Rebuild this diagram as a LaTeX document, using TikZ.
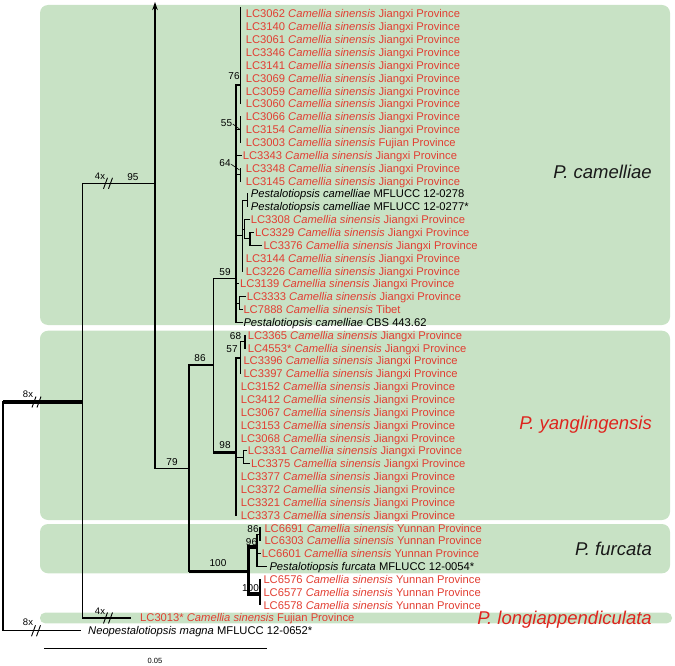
\documentclass[tikz,border=0pt]{standalone}
\usepackage{fontspec}
\setmainfont{Liberation Sans}
\usetikzlibrary{arrows.meta}
\definecolor{lcred}{RGB}{226,62,50}
\definecolor{clgreen}{RGB}{200,226,197}
\definecolor{cladered}{RGB}{222,36,30}
\newcommand{\cs}{\textit{Camellia sinensis}}
\begin{document}
\begin{tikzpicture}[x=1pt,y=-1pt,
  leaf/.style={anchor=base west,inner sep=0pt,font=\fontsize{11.2}{12}\selectfont,text=lcred},
  blk/.style={leaf,text=black},
  br/.style={line width=1.1pt,line cap=rect},
  thk/.style={line width=3.6pt},
  supp/.style={font=\fontsize{10}{11}\selectfont,inner sep=0pt,anchor=center},
  mult/.style={font=\fontsize{9.5}{10}\selectfont,inner sep=0pt,anchor=center},
  clade/.style={anchor=base east,inner sep=0pt,font=\fontsize{18.5}{20}\selectfont\itshape},
  cbox/.style={fill=clgreen,rounded corners=8pt,draw=none}
]
\useasboundingbox (0,0) rectangle (675,666);
% clade boxes
\fill[cbox] (40,5) rectangle (670,325);
\fill[cbox] (40,330.7) rectangle (670,520);
\fill[cbox] (40,524) rectangle (670,573.3);
\fill[cbox,rounded corners=5pt] (40,612.7) rectangle (672,623.3);
% clade labels
\node[clade,text=black!90] (cam) at (652,178.5) {P. camelliae};
\node[clade,text=cladered] (yan) at (652,429.5) {P. yanglingensis};
\node[clade,text=black!90] (fur) at (652,555.5) {P. furcata};
\node[clade,text=cladered] (lon) at (652,624.5) {P. longiappendiculata};
% leaves: Jiangxi
\foreach \t/\i/\x in {LC3062/0/245.7,LC3140/1/245.7,LC3061/2/245.7,LC3346/3/245.7,LC3141/4/245.7,LC3069/5/245.7,LC3059/6/245.7,LC3060/7/245.7,LC3066/8/245.7,LC3154/9/245.7,LC3343/11/242.7,LC3348/12/245.7,LC3145/13/245.7,LC3308/16/250.7,LC3329/17/255,LC3376/18/263.3,LC3144/19/245.7,LC3226/20/245.7,LC3139/21/240,LC3333/22/246.7,LC3365/25/247.7,LC4553*/26/247.7,LC3396/27/243.3,LC3397/28/243.3,LC3152/29/240.7,LC3412/30/240.7,LC3067/31/240.7,LC3153/32/240.7,LC3068/33/240.7,LC3331/34/247.7,LC3375/35/251,LC3377/36/240.7,LC3372/37/240.7,LC3321/38/240.7,LC3373/39/240.7}
  {\node[leaf] (r\i) at (\x,18+12.85*\i) {\t\ \cs\ Jiangxi Province};}
% leaves: Yunnan
\foreach \t/\i/\x in {LC6691/40/264.3,LC6303/41/264.3,LC6601/42/261.7,LC6576/44/263.3,LC6577/45/263.3,LC6578/46/263.3}
  {\node[leaf] (r\i) at (\x,18+12.85*\i) {\t\ \cs\ Yunnan Province};}
\node[leaf] (r10) at (245.7,146.5) {LC3003 \cs\ Fujian Province};
\node[leaf] (r23) at (243.3,313.55) {LC7888 \cs\ Tibet};
\node[leaf] (r47) at (140,621.95) {LC3013* \cs\ Fujian Province};
\node[blk] (r14) at (250.7,197.9) {\textit{Pestalotiopsis camelliae} MFLUCC 12-0278};
\node[blk] (r15) at (250.7,210.75) {\textit{Pestalotiopsis camelliae} MFLUCC 12-0277*};
\node[blk] (r24) at (243.3,326.4) {\textit{Pestalotiopsis camelliae} CBS 443.62};
\node[blk] (r43) at (269.3,570.55) {\textit{Pestalotiopsis furcata} MFLUCC 12-0054*};
\node[blk] (r48) at (88,634.8) {\textit{Neopestalotiopsis magna} MFLUCC 12-0652*};
% internal node coordinates
\coordinate (root) at (3,402);
\coordinate (ing) at (82.3,402);
\coordinate (n95) at (155,183.3);
\coordinate (n79) at (189,468.3);
\coordinate (n86) at (213.3,365);
\coordinate (n59) at (236,278.3);
\coordinate (n98) at (236,452.3);
\coordinate (n100) at (248.3,571.5);
% backbone
\draw[br] (3,402) -- (3,630.8) -- (80,630.8);
\draw[thk] (root) -- (ing);
\draw[br] (82.3,183.3) -- (82.3,617.95) -- (130,617.95);
\draw[br] (82.3,183.3) -- (n95);
\draw[br,-{Stealth[length=8pt,width=5.5pt]}] (155,468.3) -- (155,2);
\draw[br] (155,468.3) -- (n79);
\draw[br] (189,365) |- (n79);
\draw[br] (189,468.3) -- (189,571.5);
\draw[br] (189,365) -- (n86);
\draw[thk] (189,571.5) -- (n100);
\draw[br] (213.3,278.3) -- (213.3,452.3);
\draw[br] (213.3,278.3) -- (n59);
\draw[thk] (213.3,452.3) -- (n98);
% P. camelliae clade
\draw[br] (236,85) -- (236,322.4);
\draw[br] (240.7,8) -- (240.7,103.95);
\draw[br] (236,85) -- (240.7,85);
\draw[br] (240.7,116.8) -- (240.7,142.5);
\draw[br] (236,129.65) -- (240.7,129.65);
\draw[br] (236,155.35) -- (241.2,155.35);
\draw[br] (240.7,168.2) -- (240.7,181.05);
\draw[br] (236,174.6) -- (240.7,174.6);
\draw[br] (242.7,200.3) -- (242.7,271);
\draw[br] (236,235.6) -- (242.7,235.6);
\draw[br] (247.3,193.9) -- (247.3,206.75);
\draw[br] (242.7,200.3) -- (247.3,200.3);
\draw[br] (244.5,219.6) -- (244.5,238.9);
\draw[br] (242.7,229.2) -- (244.5,229.2);
\draw[br] (244.5,219.6) -- (249.3,219.6);
\draw[br] (250,232.45) -- (250,245.3);
\draw[br] (244.5,238.9) -- (250,238.9);
\draw[br] (250,232.45) -- (253.5,232.45);
\draw[br] (250,245.3) -- (261.8,245.3);
\draw[br] (236,283.85) -- (238.6,283.85);
\draw[br] (239.5,296.7) -- (239.5,309.55);
\draw[br] (236,303.1) -- (239.5,303.1);
\draw[br] (239.5,296.7) -- (245.3,296.7);
\draw[br] (239.5,309.55) -- (242,309.55);
\draw[br] (236,322.4) -- (242,322.4);
% P. yanglingensis clade
\draw[br] (236,358) -- (236,515.15);
\draw[br] (240.5,341.7) -- (240.5,373.8);
\draw[br] (236,358) -- (240.5,358);
\draw[br] (245,335.25) -- (245,348.1);
\draw[br] (240.5,341.7) -- (245,341.7);
\draw[br] (243.3,450.9) -- (243.3,463.75);
\draw[br] (236,457.3) -- (243.3,457.3);
\draw[br] (243.3,450.9) -- (246.3,450.9);
\draw[br] (243.3,463.75) -- (249.8,463.75);
% P. furcata clade
\draw[thk] (248.3,545.2) -- (248.3,595.8);
\draw[thk] (248.3,547) -- (257.5,547);
\draw[br] (257,534.4) -- (257,566.55);
\draw[br] (260,528) -- (260,540.85);
\draw[br] (257,534.4) -- (260,534.4);
\draw[br] (257,553.7) -- (260.3,553.7);
\draw[br] (257,566.55) -- (266,566.55);
\draw[thk] (248.3,594) -- (261,594);
\draw[line width=2.4pt] (260,579.4) -- (260,605.1);
% long-branch marks
\foreach \x/\y in {36.5/402,108/183.3,108/617.95,36/630.8}
  {\draw[line width=0.9pt] (\x-4.5,\y+5.5) -- (\x-0.5,\y-5.5) (\x+0.5,\y+5.5) -- (\x+4.5,\y-5.5);}
\node[mult] (m1) at (28,394) {8x};
\node[mult] (m2) at (100,176) {4x};
\node[mult] (m3) at (100,611) {4x};
\node[mult] (m4) at (28,622.5) {8x};
% support values
\node[supp] (s95) at (133,177) {95};
\node[supp] (s79) at (172,462) {79};
\node[supp] (s86) at (200,358.5) {86};
\node[supp] (s59) at (225,272.5) {59};
\node[supp] (s98) at (225,445) {98};
\node[supp] (s76) at (234,76) {76};
\node[supp] (s55) at (226.5,123) {55};
\node[supp] (s64) at (225,163.3) {64};
\node[supp] (s68) at (235.5,335.7) {68};
\node[supp] (s57) at (232,349.3) {57};
\node[supp] (s86b) at (253,529) {86};
\node[supp] (s96) at (251.5,541.7) {96};
\node[supp] (s100) at (218,563) {100};
\node[supp] (s100b) at (250.5,588) {100};
\draw[line width=0.6pt] (s55.east) ++(0.5,1) -- (239.5,129);
\draw[line width=0.6pt] (s64.east) ++(0.5,1) -- (239.5,170);
% scale bar
\coordinate (sbl) at (44.3,648.3);
\coordinate (sbr) at (266.7,648.3);
\draw[line width=1pt] (sbl) -- (sbr);
\node[font=\fontsize{7.5}{8}\selectfont,inner sep=0pt] (sbt) at (155,660.5) {0.05};
\end{tikzpicture}
\end{document}
